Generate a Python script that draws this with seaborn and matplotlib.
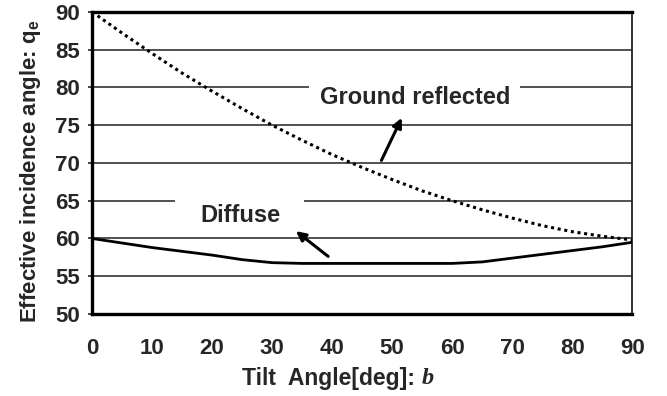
import matplotlib
matplotlib.use("Agg")
import matplotlib.pyplot as plt
from matplotlib.patches import Rectangle
import pandas as pd
import seaborn as sns

# values, every 5 degrees of tilt
tilt = [0, 5, 10, 15, 20, 25, 30, 35, 40, 45, 50, 55, 60, 65, 70, 75, 80, 85, 90]
ground = [90.0, 87.2, 84.5, 81.9, 79.5, 77.2, 75.0, 73.0, 71.1, 69.4,
          67.8, 66.3, 65.0, 63.8, 62.7, 61.7, 60.9, 60.3, 59.8]
diffuse = [60.0, 59.4, 58.8, 58.3, 57.8, 57.2, 56.8, 56.7, 56.7, 56.7,
           56.7, 56.7, 56.7, 56.9, 57.4, 57.9, 58.4, 58.9, 59.5]
yticks = [50, 55, 60, 65, 70, 75, 80, 85, 90]
xticks = [0, 10, 20, 30, 40, 50, 60, 70, 80, 90]

df = pd.DataFrame({"tilt": tilt, "ground": ground, "diffuse": diffuse})

sns.set_style("white")
plt.rcParams['font.family'] = ['Liberation Sans', 'DejaVu Sans']
plt.rcParams['font.weight'] = 'bold'

fig = plt.figure(figsize=(6.67, 3.96), dpi=100)
ax = fig.add_axes([0.138, 0.207, 0.810, 0.763])

# horizontal grid
for v in yticks[1:-1]:
    ax.axhline(v, color='#222222', lw=1.1, zorder=1)

# white patches where the labels break the grid
ax.add_patch(Rectangle((36.2, 79.2), 35.1, 1.6, fc='white', ec='none', zorder=2))
ax.add_patch(Rectangle((13.8, 64.2), 21.5, 1.6, fc='white', ec='none', zorder=2))

sns.lineplot(data=df, x="tilt", y="ground", ax=ax, color='black',
             lw=2.2, linestyle=(0, (1, 1.2)), zorder=3)
sns.lineplot(data=df, x="tilt", y="diffuse", ax=ax, color='black',
             lw=2.0, zorder=3)

ax.set_xlim(0, 90)
ax.set_ylim(50, 90)
ax.set_xticks(xticks)
ax.set_yticks(yticks)
ax.tick_params(axis='x', direction='in', length=5, width=1.3, pad=17,
               labelsize=16)
ax.tick_params(axis='y', direction='out', length=3, width=1.2, pad=5.5,
               labelsize=16, left=True)
for lab in ax.get_xticklabels() + ax.get_yticklabels():
    lab.set_fontweight('bold')

for s in ['left', 'bottom', 'top']:
    ax.spines[s].set_linewidth(2.4)
    ax.spines[s].set_color('black')
ax.spines['right'].set_linewidth(1.3)
ax.spines['right'].set_color('#222222')

ax.set_xlabel('')
ax.set_ylabel('')
fig.text(0.046, 0.568, r'Effective incidence angle: q$_\mathregular{e}$',
         rotation=90, ha='center', va='center', fontsize=16,
         fontweight='bold')
fig.text(0.632, 0.045, 'Tilt  Angle[deg]: ', ha='right', va='center',
         fontsize=16.5, fontweight='bold')
fig.text(0.632, 0.045, 'b', ha='left', va='center', fontsize=17.5,
         family='Liberation Serif', style='italic', fontweight='bold')

# labels and arrows
ax.text(53.8, 78.6, 'Ground reflected', ha='center', va='center',
        fontsize=17, fontweight='bold', zorder=4)
ax.annotate('', xy=(51.8, 76.3), xytext=(48.0, 70.0),
            arrowprops=dict(arrowstyle='-|>', color='black', lw=2.2,
                            mutation_scale=14), zorder=5)
ax.text(24.75, 63.1, 'Diffuse', ha='center', va='center', fontsize=17,
        fontweight='bold', zorder=4)
ax.annotate('', xy=(33.6, 61.2), xytext=(39.7, 57.4),
            arrowprops=dict(arrowstyle='-|>', color='black', lw=2.2,
                            mutation_scale=14), zorder=5)

fig.savefig('out.png', dpi=100)
